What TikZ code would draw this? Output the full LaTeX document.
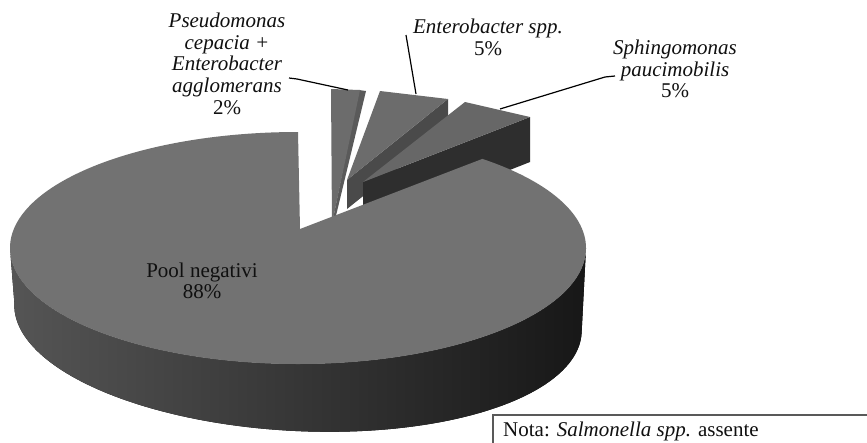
\documentclass[tikz,border=0pt]{standalone}
\usepackage{fontspec}
\setmainfont{Liberation Serif}
\definecolor{pooltop}{HTML}{727272}
\definecolor{sideL}{HTML}{555555}
\definecolor{sideR}{HTML}{171717}
\definecolor{slicetop}{HTML}{6C6C6C}
\definecolor{stripA}{HTML}{5A5A5A}
\definecolor{stripB}{HTML}{4A4A4A}
\definecolor{stripC}{HTML}{2E2E2E}
\definecolor{txt}{HTML}{101010}
\tikzset{
  lbl/.style={inner sep=0pt, align=center, text=txt, font=\fontsize{21}{21.7}\selectfont},
  leader/.style={draw=black, line width=1.2pt},
  notebox/.style={draw=black!65, line width=1.3pt}
}
\begin{document}
\begin{tikzpicture}[x=1pt,y=1pt]
\useasboundingbox (0,0) rectangle (867,-442);
\clip (0,0) rectangle (867,-442);
\fill[white] (0,0) rectangle (867,-442);

% exploded slice 1 (2%)
\fill[stripA] (359,-90) -- (366,-91) -- (334,-224) -- (332,-224) -- cycle;
\fill[slicetop] (331,-89) -- (360,-90) -- (332,-224) -- cycle;
% exploded slice 2 (Enterobacter 5%)
\fill[stripB] (448,-99) -- (448,-128) -- (347,-209) -- (347,-180) -- cycle;
\fill[slicetop] (380,-91) -- (448,-99) -- (347,-180) -- cycle;
% exploded slice 3 (Sphingomonas 5%)
\fill[stripC] (363,-182) -- (530,-117) -- (530,-162) -- (363,-228) -- cycle;
\fill[slicetop!95!black] (465,-102) -- (530,-117) -- (363,-182) -- cycle;

% main slice: side
\fill[left color=sideL, right color=sideR]
  (10,-248) -- plot[domain=180:360, samples=90, variable=\t]
   ({298+284*cos(\t)*cos(-3)-113*sin(\t)*sin(-3)},{-318+284*cos(\t)*sin(-3)+113*sin(\t)*cos(-3)})
  -- (586,-248) arc[start angle=0, end angle=-180, x radius=288, y radius=116] -- cycle;
% main slice: top
\fill[pooltop] (300,-229) -- (298,-132)
  arc[start angle=90, end angle=410.2, x radius=288, y radius=116] -- cycle;

% leader end points
\coordinate (a1) at (289,-78);
\coordinate (k1) at (297,-79);
\coordinate (s1) at (348,-90);
\coordinate (a2) at (406,-35);
\coordinate (s2) at (416,-94);
\coordinate (a3) at (615,-76);
\coordinate (k3) at (605,-77);
\coordinate (s3) at (500,-109);

% labels
\node[lbl, anchor=north] (lp) at (227,-12.7)
  {\itshape Pseudomonas\\ \itshape cepacia +\\ \itshape Enterobacter\\ \itshape agglomerans\\ 2\%};
\node[lbl, anchor=north] (le) at (488,-18.7) {\itshape Enterobacter spp.\\ 5\%};
\node[lbl, anchor=north] (ls) at (675,-39.7) {\itshape Sphingomonas\\ \itshape paucimobilis\\ 5\%};
\node[lbl, anchor=north] (lpool) at (202,-262.4) {Pool negativi\\ 88\%};

\draw[leader] (a1) -- (k1) -- (s1);
\draw[leader] (a2) -- (s2);
\draw[leader] (a3) -- (k3) -- (s3);

% note box
\draw[notebox] (493,-470) -- (493,-415) -- (900,-415);
\node[lbl, anchor=base west, align=left] (nota) at (503,-436) {Nota: \textit{Salmonella spp.} assente};
\end{tikzpicture}
\end{document}
